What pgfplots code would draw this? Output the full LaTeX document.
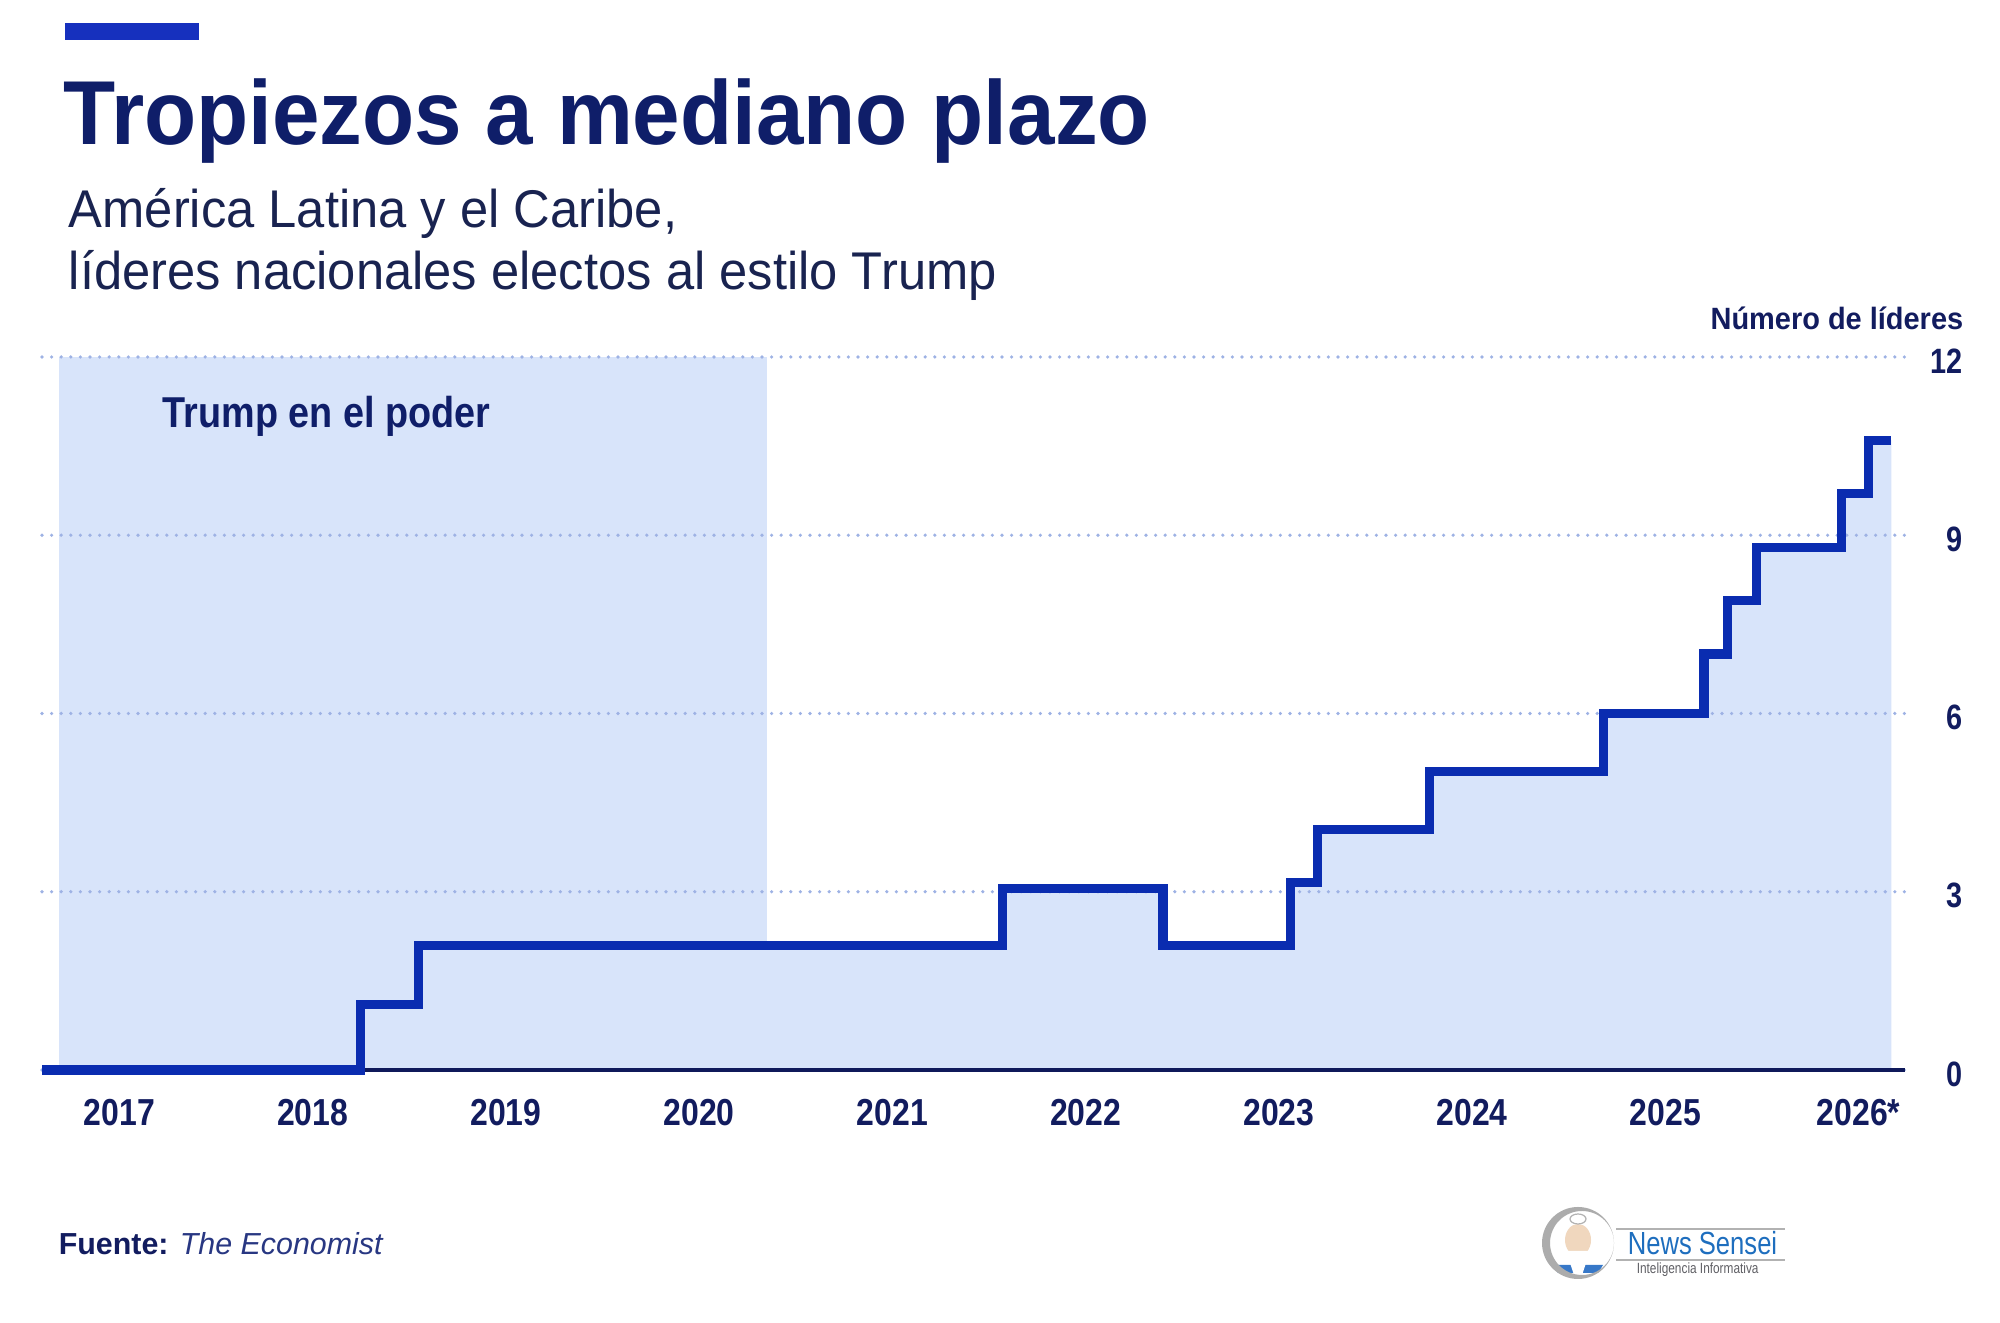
\documentclass[border=0pt]{standalone}
\usepackage{fontspec}
\setmainfont{Liberation Sans}
\newfontfamily\ttlfont[FakeStretch=0.94]{Liberation Sans}
\newfontfamily\subfont[FakeStretch=0.955]{Liberation Sans}
\newfontfamily\cndfont[FakeStretch=0.82]{Liberation Sans}
\newfontfamily\ymfont[FakeStretch=0.85]{Liberation Sans}
\newfontfamily\lblfont[FakeStretch=0.875]{Liberation Sans}
\newfontfamily\nsfont[FakeStretch=0.8]{Liberation Sans}
\usepackage{pgfplots}
\pgfplotsset{compat=1.18}
\usepackage{pgfplotstable}

\definecolor{barblue}{RGB}{22,48,190}
\definecolor{titlecol}{RGB}{15,30,105}
\definecolor{subcol}{RGB}{25,35,80}
\definecolor{navy}{RGB}{18,28,95}
\definecolor{linecol}{RGB}{10,44,176}
\definecolor{fillcol}{RGB}{216,228,250}
\definecolor{gridcol}{RGB}{158,178,228}
\definecolor{axiscol}{RGB}{15,25,90}
\definecolor{srccol}{RGB}{40,55,130}
\definecolor{nsblue}{RGB}{30,110,190}
\definecolor{nsgray}{RGB}{95,95,100}
\definecolor{robe}{RGB}{55,120,200}
\definecolor{skin}{RGB}{240,215,190}

\pgfplotstableread{
x y
2016.60 0
2018.25 1.1
2018.55 2.1
2021.57 3.05
2022.40 2.1
2023.06 3.15
2023.20 4.05
2023.78 5.03
2024.68 6
2025.20 7
2025.32 7.9
2025.47 8.8
2025.91 9.7
2026.05 10.6
2026.17 10.6
}\stepdata

\begin{document}
\begin{tikzpicture}
\begin{scope}[x=0.25pt,y=0.25pt]
\path[use as bounding box] (0,0) rectangle (2000,1323);
% top bar
\fill[barblue] (65,1283) rectangle (199,1300);
% title
\node[anchor=base west, inner sep=0pt, text=titlecol, font=\ttlfont\bfseries\fontsize{22.7}{27}\selectfont] at (63,1178) {Tropiezos a mediano plazo};
\node[anchor=base west, inner sep=0pt, text=subcol, font=\subfont\fontsize{13.27}{16}\selectfont] at (68,1095) {América Latina y el Caribe,};
\node[anchor=base west, inner sep=0pt, text=subcol, font=\subfont\fontsize{13.27}{16}\selectfont] at (68,1033) {líderes nacionales electos al estilo Trump};
\node[anchor=base east, inner sep=0pt, text=navy, font=\ttlfont\bfseries\fontsize{7.7}{9}\selectfont] at (1964,993) {Número de líderes};
\end{scope}

\begin{axis}[
  at={(10.5pt,63.25pt)}, anchor=south west, scale only axis,
  width=465.75pt, height=178.25pt,
  xmin=2016.6, xmax=2026.24, ymin=0, ymax=12,
  set layers, clip=false,
  axis x line*=bottom, axis y line*=right,
  x axis line style={draw=axiscol, line width=0.9pt},
  y axis line style={draw=none},
  xtick={2017,2018,2019,2020,2021,2022,2023,2024,2025,2026},
  xticklabels={2017,2018,2019,2020,2021,2022,2023,2024,2025,2026*},
  ytick={0,3,6,9,12}, yticklabels={0,3,6,9,12},
  major tick length=0pt,
  xticklabel style={font=\ymfont\bfseries\fontsize{9.4}{11}\selectfont, text=navy, anchor=north, inner sep=0pt, yshift=-7pt},
  yticklabel style={font=\cndfont\bfseries\fontsize{8.8}{10}\selectfont, text=navy, anchor=east, inner sep=0pt, xshift=14.5pt, yshift=-1pt},
  ymajorgrids,
  grid style={draw=gridcol, line width=0.9pt, line cap=round, dash pattern=on 0pt off 2.4pt},
]
\addplot[fill=fillcol, draw=none, on layer=axis background] coordinates {(2016.69,0) (2016.69,12) (2020.35,12) (2020.35,0)};
\addplot[const plot, fill=fillcol, draw=none, on layer=axis background] table {\stepdata} \closedcycle;
\addplot[const plot, draw=linecol, line width=2.3pt, line join=miter] table {\stepdata};
\end{axis}

\begin{scope}[x=0.25pt,y=0.25pt]
\node[anchor=base west, inner sep=0pt, text=titlecol, font=\lblfont\bfseries\fontsize{10.8}{13}\selectfont] at (162,895) {Trump en el poder};

% footer
\node[anchor=base west, inner sep=0pt, font=\fontsize{7.6}{9}\selectfont] at (58,68) {\textcolor{navy}{\bfseries Fuente:} \textcolor{srccol}{\itshape The Economist}};

% logo
\fill[white] (1578,80) circle (33);
\fill[robe] (1553,58) -- (1603,58) -- (1598,50) -- (1558,50) -- cycle;
\fill[skin] (1578,83) ellipse (13 and 16);
\fill[white] (1566,72) -- (1590,72) -- (1578,36) -- cycle;
\fill[white, draw=gray!60, line width=0.3pt] (1578,104) ellipse (8 and 5);
\fill[gray!65, even odd rule] (1578,80) circle (36) (1582,80) circle (32);
\draw[gray!60, line width=0.5pt] (1616,94) -- (1785,94);
\draw[gray!60, line width=0.5pt] (1616,63) -- (1785,63);
\node[anchor=base west, inner sep=0pt, text=nsblue, font=\nsfont\fontsize{8}{9}\selectfont] at (1627,68) {News Sensei};
\node[anchor=base west, inner sep=0pt, text=nsgray, font=\nsfont\fontsize{3.7}{4}\selectfont] at (1636,49) {Inteligencia Informativa};
\end{scope}
\end{tikzpicture}
\end{document}
